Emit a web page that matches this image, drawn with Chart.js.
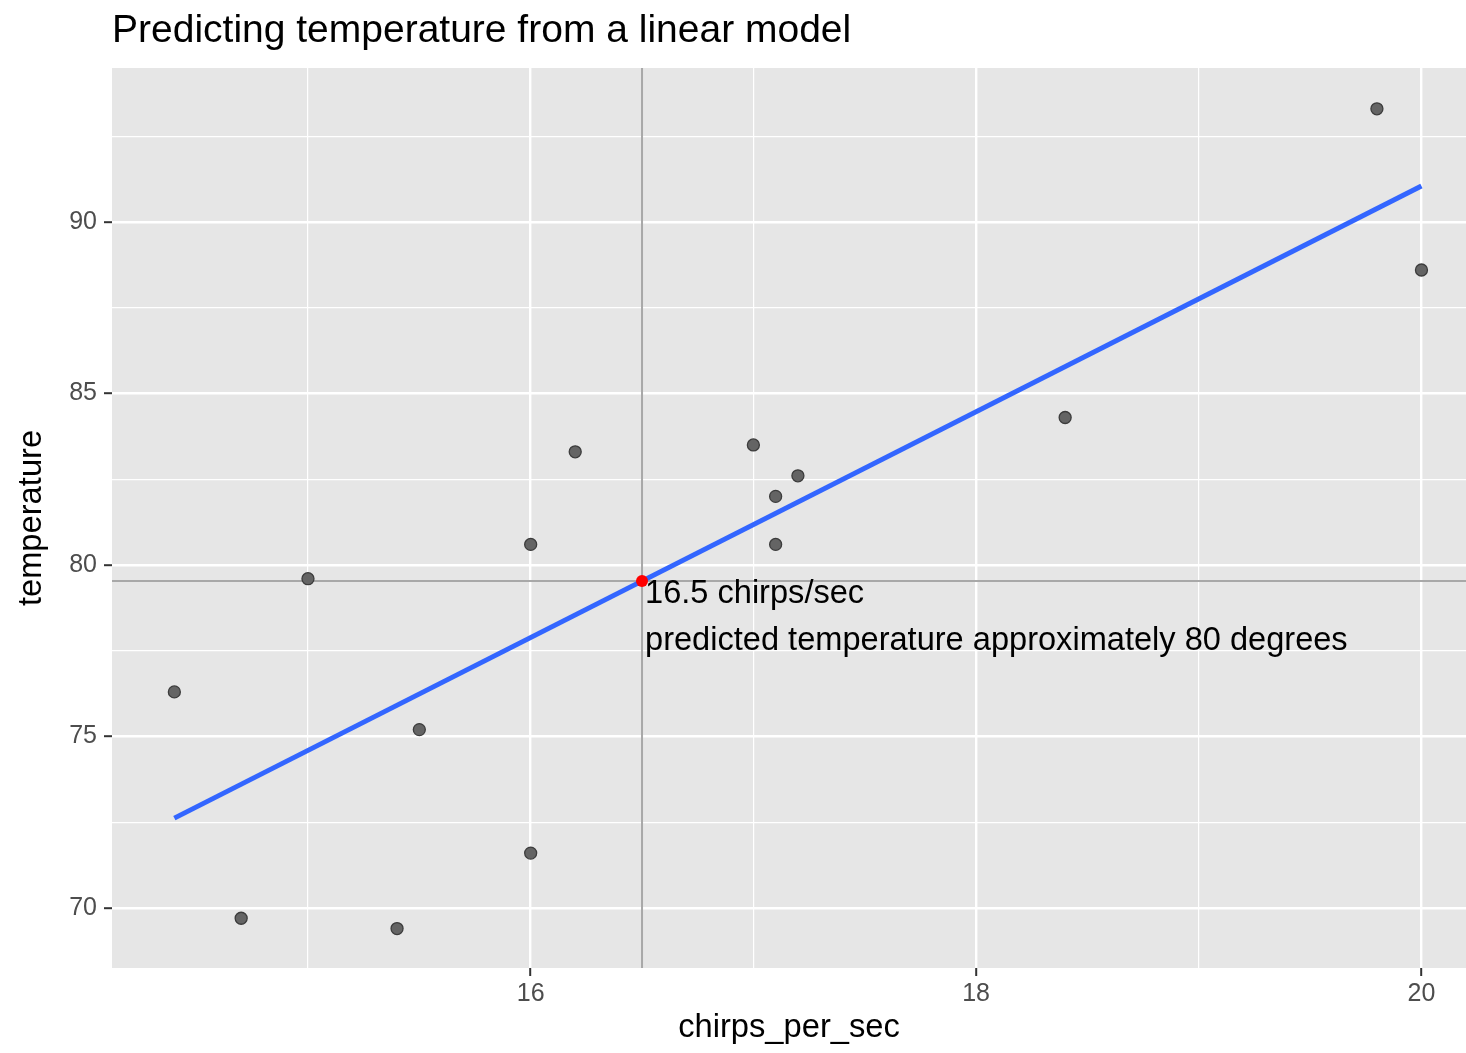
<!DOCTYPE html>
<html>
<head>
<meta charset="utf-8">
<title>Predicting temperature from a linear model</title>
<script src="https://cdn.jsdelivr.net/npm/chart.js@4.4.1/dist/chart.umd.min.js"></script>
<style>
  html, body { margin: 0; padding: 0; background: #ffffff; }
  #grafico { display: block; }
</style>
</head>
<body>
<canvas id="grafico" width="1466" height="1053" style="width:1466px;height:1053px"></canvas>
<script>
// ── Dados ──────────────────────────────────────────────
var chirps      = [20.0, 16.0, 19.8, 18.4, 17.1, 15.5, 14.7, 15.4, 16.2, 15.0, 17.2, 16.0, 17.0, 17.1, 14.4];
var temperature = [88.6, 71.6, 93.3, 84.3, 80.6, 75.2, 69.7, 69.4, 83.3, 79.6, 82.6, 80.6, 83.5, 82.0, 76.3];

// fitted line (ends of the lm line) and the predicted point
var fitX  = [14.4, 20.0];
var fitY  = [72.62, 91.05];
var predX = 16.5;
var predY = 79.53;
var annotationLines = ['16.5 chirps/sec', 'predicted temperature approximately 80 degrees'];

// ticks: majors carry labels, the rest are minor grid lines
var xTicks      = [15, 16, 17, 18, 19, 20];
var xMajor      = [16, 18, 20];
var xTickLabels = ['16', '18', '20'];
var yTicks      = [70, 72.5, 75, 77.5, 80, 82.5, 85, 87.5, 90, 92.5];
var yMajor      = [70, 75, 80, 85, 90];
var yTickLabels = ['70', '75', '80', '85', '90'];

// ── Paleta (ggplot theme_gray) ─────────────────────────
var PAINEL     = '#E6E6E6';
var GRADE      = '#FFFFFF';
var TEXTO_TICK = '#4D4D4D';
var TICK       = '#333333';
var AZUL       = '#3366FF';
var VERMELHO   = '#FF0000';
var CINZA_REF  = '#A8A8A8';
var FONTE      = "'Liberation Sans', Arial, Helvetica, sans-serif";

var X_MIN = 14.12, X_MAX = 20.2;
var Y_MIN = 68.25, Y_MAX = 94.49;

Chart.defaults.font.family = FONTE;
Chart.defaults.color = TEXTO_TICK;

var pontos = chirps.map(function(c, i) { return { x: c, y: temperature[i] }; });
var reta   = fitX.map(function(x, i) { return { x: x, y: fitY[i] }; });

function isMajor(list, v) { return list.indexOf(v) >= 0; }

function eixo(ticks, major, labels) {
  return {
    type: 'linear',
    afterBuildTicks: function(scale) {
      scale.ticks = ticks.map(function(v) { return { value: v }; });
    },
    ticks: {
      color: TEXTO_TICK,
      font: { size: 25 },
      autoSkip: false,
      maxRotation: 0,
      callback: function(v) {
        var i = major.indexOf(v);
        return i >= 0 ? labels[i] : '';
      }
    },
    grid: {
      color: GRADE,
      tickLength: 8,
      lineWidth: function(ctx) { return isMajor(major, ctx.tick.value) ? 2.4 : 1.2; },
      tickWidth: 2,
      tickColor: function(ctx) { return isMajor(major, ctx.tick.value) ? TICK : 'rgba(0,0,0,0)'; }
    },
    border: { display: false }
  };
}

var escalaX = eixo(xTicks, xMajor, xTickLabels);
escalaX.min = X_MIN; escalaX.max = X_MAX;
escalaX.ticks.padding = 3;
escalaX.title = { display: true, text: 'chirps_per_sec', color: '#000', font: { size: 32.7 }, padding: { top: 0, bottom: 5 } };
escalaX.afterFit = function(scale) { scale.height = 85; };

var escalaY = eixo(yTicks, yMajor, yTickLabels);
escalaY.min = Y_MIN; escalaY.max = Y_MAX;
escalaY.ticks.padding = 7;
escalaY.title = { display: true, text: 'temperature', color: '#000', font: { size: 32.7 }, padding: { top: 12.5, bottom: 0 } };
escalaY.afterFit = function(scale) { scale.width = 112; };

// fundo branco + painel cinza
var fundo = {
  id: 'fundo',
  beforeDraw: function(chart) {
    var ctx = chart.ctx, a = chart.chartArea;
    ctx.save();
    ctx.fillStyle = '#FFFFFF';
    ctx.fillRect(0, 0, chart.width, chart.height);
    ctx.fillStyle = PAINEL;
    ctx.fillRect(a.left, a.top, a.right - a.left, a.bottom - a.top);
    ctx.restore();
  }
};

// texto junto ao ponto previsto
var anotacao = {
  id: 'anotacao',
  afterDatasetsDraw: function(chart) {
    var ctx = chart.ctx;
    var px = chart.scales.x.getPixelForValue(predX);
    var py = chart.scales.y.getPixelForValue(predY);
    ctx.save();
    ctx.font = '32.6px ' + FONTE;
    ctx.fillStyle = '#000000';
    ctx.textAlign = 'left';
    ctx.textBaseline = 'alphabetic';
    annotationLines.forEach(function(t, i) {
      ctx.fillText(t, px + 3, py + 22 + i * 47);
    });
    ctx.restore();
  }
};

new Chart(document.getElementById('grafico'), {
  type: 'scatter',
  data: {
    datasets: [
      {
        label: 'predicted',
        data: [{ x: predX, y: predY }],
        backgroundColor: VERMELHO,
        borderWidth: 0,
        pointRadius: 6,
        order: 0
      },
      {
        label: 'lm',
        data: reta,
        showLine: true,
        borderColor: AZUL,
        borderWidth: 5,
        pointRadius: 0,
        order: 1
      },
      {
        label: 'temperature',
        data: pontos,
        backgroundColor: '#646464',
        borderColor: '#3C3C3C',
        borderWidth: 1.3,
        pointRadius: 6,
        order: 2
      },
      {
        label: 'vline',
        data: [{ x: predX, y: Y_MIN }, { x: predX, y: Y_MAX }],
        showLine: true,
        borderColor: CINZA_REF,
        borderWidth: 2,
        pointRadius: 0,
        order: 3
      },
      {
        label: 'hline',
        data: [{ x: X_MIN, y: predY }, { x: X_MAX, y: predY }],
        showLine: true,
        borderColor: CINZA_REF,
        borderWidth: 2,
        pointRadius: 0,
        order: 3
      }
    ]
  },
  options: {
    responsive: false,
    animation: false,
    devicePixelRatio: 1,
    layout: { padding: 0, autoPadding: false },
    plugins: {
      legend: { display: false },
      tooltip: { enabled: false },
      title: {
        display: true,
        text: 'Predicting temperature from a linear model',
        align: 'start',
        fullSize: false,
        color: '#000000',
        font: { size: 39, weight: 'normal' },
        padding: { top: 8, bottom: 13.2 }
      }
    },
    scales: { x: escalaX, y: escalaY }
  },
  plugins: [fundo, anotacao]
});
</script>
</body>
</html>
